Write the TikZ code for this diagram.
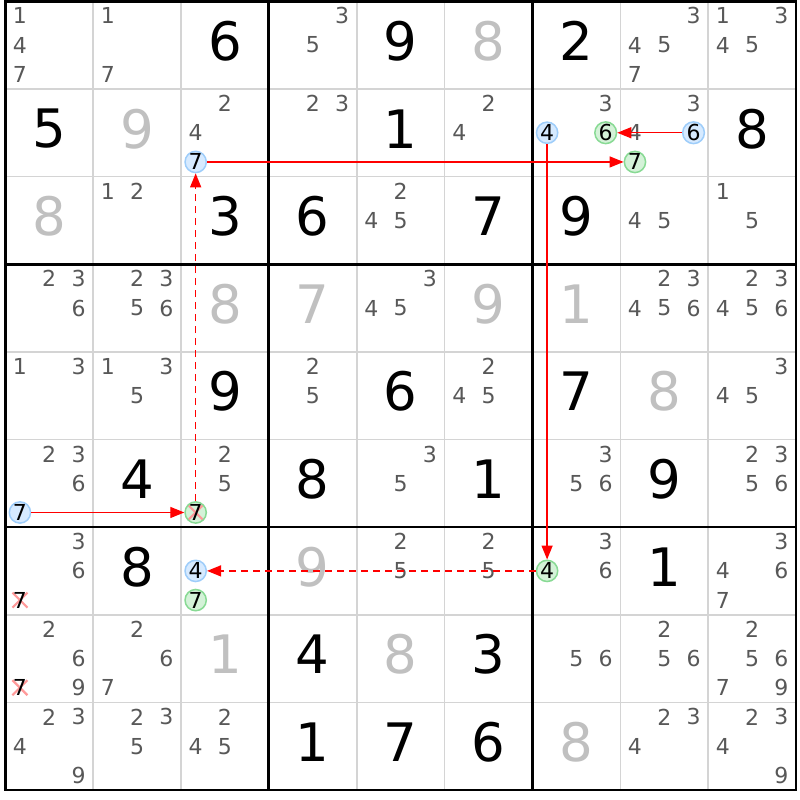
\documentclass[tikz,border=0pt]{standalone}
\usepackage{fontspec}
\setmainfont{DejaVu Sans}
\usetikzlibrary{arrows.meta}
\definecolor{gridthin}{HTML}{D4D4D4}
\definecolor{candc}{HTML}{585858}
\definecolor{givgray}{HTML}{C0C0C0}
\definecolor{bfill}{HTML}{D6EAFF}
\definecolor{bdraw}{HTML}{9ECDFA}
\definecolor{gfill}{HTML}{D4F2D8}
\definecolor{gdraw}{HTML}{88DA94}
\definecolor{xcol}{HTML}{FF9A9A}
\definecolor{linkred}{HTML}{FF0000}
\def\gx{5.3}\def\gy{1.3}\def\cw{87.86}\def\ch{87.63}
\newcommand\candpos[3]{%
  \pgfmathsetmacro\cx{\gx+#2*\cw+(mod(#3-1,3)+0.5)*\cw/3}%
  \pgfmathsetmacro\cy{\gy+#1*\ch+(floor((#3-1)/3)+0.5)*\ch/3}}
\newcommand\cands[3]{\foreach \d in {#3}{\candpos{#1}{#2}{\d}\node[cnd] at (\cx,\cy) {\d};}}
\newcommand\given[4][giv]{%
  \pgfmathsetmacro\cx{\gx+(#3+0.5)*\cw}%
  \pgfmathsetmacro\cy{\gy+(#2+0.5)*\ch-4}%
  \node[#1] at (\cx,\cy) {#4};}
\newcommand\hcand[5]{\candpos{#3}{#4}{#5}\node[#2] (#1) at (\cx,\cy) {#5};}
\newcommand\crossout[3]{\candpos{#1}{#2}{#3}%
  \draw[xline] (\cx-7.5,\cy-7.5) -- (\cx+7.5,\cy+7.5) (\cx-7.5,\cy+7.5) -- (\cx+7.5,\cy-7.5);
  \node[cnd,text=black] at (\cx,\cy) {#3};}
\tikzset{
  cnd/.style={text=candc, font=\fontsize{22}{22}\selectfont, inner sep=0pt},
  giv/.style={text=black, font=\fontsize{53}{53}\selectfont, inner sep=0pt},
  givg/.style={giv, text=givgray},
  circ/.style={circle, minimum size=21pt, inner sep=0pt, line width=1.5pt, font=\fontsize{22}{22}\selectfont, text=black},
  bc/.style={circ, fill=bfill, draw=bdraw},
  gc/.style={circ, fill=gfill, draw=gdraw},
  xline/.style={draw=xcol, line width=2.2pt},
  gcx/.style={gc, path picture={\draw[xline] ([shift={(-7.5,-7.5)}]path picture bounding box.center) -- ([shift={(7.5,7.5)}]path picture bounding box.center) ([shift={(-7.5,7.5)}]path picture bounding box.center) -- ([shift={(7.5,-7.5)}]path picture bounding box.center);}},
  link/.style={draw=linkred, line width=1.4pt, -{Triangle[length=14pt,width=11pt]}},
  dlink/.style={link, dash pattern=on 7pt off 5pt},
  thingrid/.style={draw=gridthin, line width=1.6pt},
  thickgrid/.style={draw=black, line width=2.8pt}
}
\begin{document}
\begin{tikzpicture}[x=1pt,y=-1pt]
\useasboundingbox (0,0) rectangle (800,800);
\fill[white] (0,0) rectangle (800,800);
% thin grid
\foreach \i in {1,2,4,5,7,8}{
  \draw[thingrid] (\gx+\i*\cw,\gy) -- (\gx+\i*\cw,\gy+9*\ch);
  \draw[thingrid] (\gx,\gy+\i*\ch) -- (\gx+9*\cw,\gy+\i*\ch);
}
\foreach \i in {0,3,6,9}{
  \draw[thickgrid] (\gx+\i*\cw,\gy) -- (\gx+\i*\cw,\gy+9*\ch);
  \draw[thickgrid] (\gx,\gy+\i*\ch) -- (\gx+9*\cw,\gy+\i*\ch);
}
\draw[thickgrid, line cap=rect] (\gx,\gy) rectangle (\gx+9*\cw,\gy+9*\ch);
% row 0
\cands{0}{0}{1,4,7}
\cands{0}{1}{1,7}
\given{0}{2}{6}
\cands{0}{3}{3,5}
\given{0}{4}{9}
\given[givg]{0}{5}{8}
\given{0}{6}{2}
\cands{0}{7}{3,4,5,7}
\cands{0}{8}{1,3,4,5}
% row 1
\given{1}{0}{5}
\given[givg]{1}{1}{9}
\cands{1}{2}{2,4}\hcand{b127}{bc}{1}{2}{7}
\cands{1}{3}{2,3}
\given{1}{4}{1}
\cands{1}{5}{2,4}
\cands{1}{6}{3}\hcand{b164}{bc}{1}{6}{4}\hcand{g166}{gc}{1}{6}{6}
\cands{1}{7}{3,4}\hcand{b176}{bc}{1}{7}{6}\hcand{g177}{gc}{1}{7}{7}
\given{1}{8}{8}
% row 2
\given[givg]{2}{0}{8}
\cands{2}{1}{1,2}
\given{2}{2}{3}
\given{2}{3}{6}
\cands{2}{4}{2,4,5}
\given{2}{5}{7}
\given{2}{6}{9}
\cands{2}{7}{4,5}
\cands{2}{8}{1,5}
% row 3
\cands{3}{0}{2,3,6}
\cands{3}{1}{2,3,5,6}
\given[givg]{3}{2}{8}
\given[givg]{3}{3}{7}
\cands{3}{4}{3,4,5}
\given[givg]{3}{5}{9}
\given[givg]{3}{6}{1}
\cands{3}{7}{2,3,4,5,6}
\cands{3}{8}{2,3,4,5,6}
% row 4
\cands{4}{0}{1,3}
\cands{4}{1}{1,3,5}
\given{4}{2}{9}
\cands{4}{3}{2,5}
\given{4}{4}{6}
\cands{4}{5}{2,4,5}
\given{4}{6}{7}
\given[givg]{4}{7}{8}
\cands{4}{8}{3,4,5}
% row 5
\cands{5}{0}{2,3,6}\hcand{b507}{bc}{5}{0}{7}
\given{5}{1}{4}
\cands{5}{2}{2,5}\hcand{g527}{gcx}{5}{2}{7}
\given{5}{3}{8}
\cands{5}{4}{3,5}
\given{5}{5}{1}
\cands{5}{6}{3,5,6}
\given{5}{7}{9}
\cands{5}{8}{2,3,5,6}
% row 6
\cands{6}{0}{3,6}\crossout{6}{0}{7}
\given{6}{1}{8}
\hcand{b624}{bc}{6}{2}{4}\hcand{g627}{gc}{6}{2}{7}
\given[givg]{6}{3}{9}
\cands{6}{4}{2,5}
\cands{6}{5}{2,5}
\cands{6}{6}{3,6}\hcand{g664}{gc}{6}{6}{4}
\given{6}{7}{1}
\cands{6}{8}{3,4,6,7}
% row 7
\cands{7}{0}{2,6,9}\crossout{7}{0}{7}
\cands{7}{1}{2,6,7}
\given[givg]{7}{2}{1}
\given{7}{3}{4}
\given[givg]{7}{4}{8}
\given{7}{5}{3}
\cands{7}{6}{5,6}
\cands{7}{7}{2,5,6}
\cands{7}{8}{2,5,6,7,9}
% row 8
\cands{8}{0}{2,3,4,9}
\cands{8}{1}{2,3,5}
\cands{8}{2}{2,4,5}
\given{8}{3}{1}
\given{8}{4}{7}
\given{8}{5}{6}
\given[givg]{8}{6}{8}
\cands{8}{7}{2,3,4}
\cands{8}{8}{2,3,4,9}
% links
\draw[link] (b127) -- (g177);
\draw[link] (b176) -- (g166);
\draw[link] (b164) -- (g664);
\draw[dlink] (g664) -- (b624);
\draw[link] (b507) -- (g527);
\draw[dlink] (g527) -- (b127);
\end{tikzpicture}
\end{document}
